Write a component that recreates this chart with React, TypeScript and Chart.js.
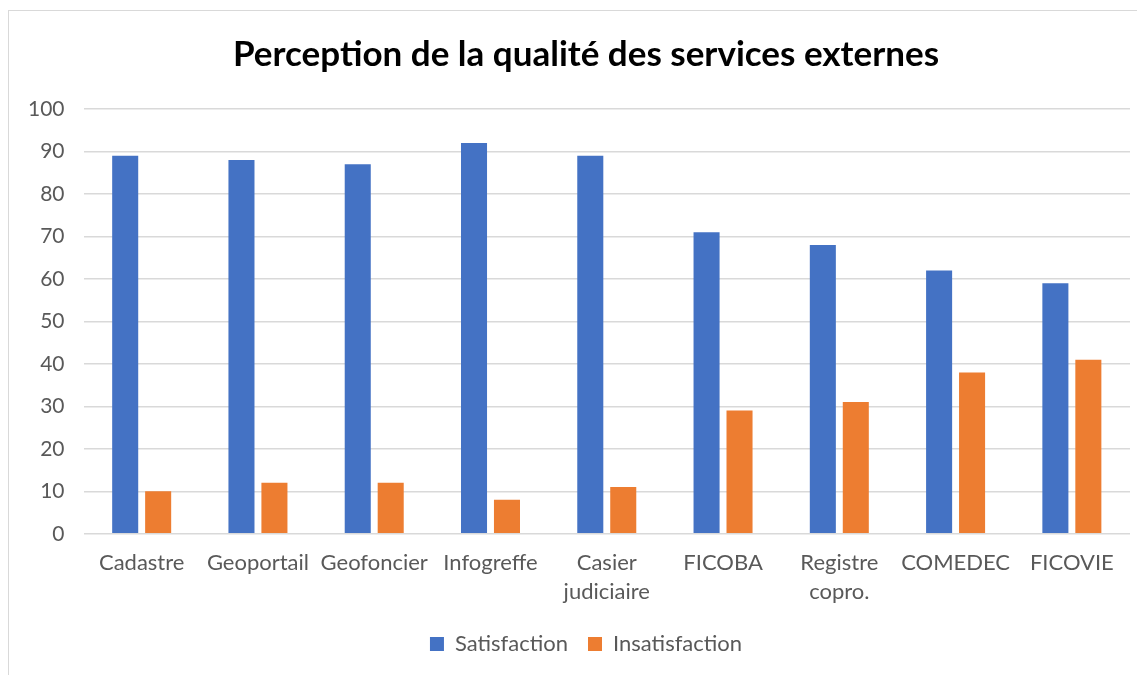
import React, { useEffect, useRef } from "react";
import { Chart, registerables } from "chart.js";

Chart.register(...registerables);

const categories: (string | string[])[] = [
  "Cadastre",
  "Geoportail",
  "Geofoncier",
  "Infogreffe",
  ["Casier", "judiciaire"],
  "FICOBA",
  ["Registre", "copro."],
  "COMEDEC",
  "FICOVIE",
];
const satisfaction = [89, 88, 87, 92, 89, 71, 68, 62, 59];
const insatisfaction = [10, 12, 12, 8, 11, 29, 31, 38, 41];
const yTicks = [0, 10, 20, 30, 40, 50, 60, 70, 80, 90, 100];

export default function App() {
  const ref = useRef<HTMLCanvasElement>(null);
  useEffect(() => {
    if (!ref.current) return;
    const font = "Lato, 'Open Sans', sans-serif";
    const chart = new Chart(ref.current, {
      type: "bar",
      data: {
        labels: categories,
        datasets: [
          {
            label: "Satisfaction",
            data: satisfaction,
            backgroundColor: "#4472C4",
            categoryPercentage: 0.567,
            barPercentage: 0.79,
          },
          {
            label: "Insatisfaction",
            data: insatisfaction,
            backgroundColor: "#ED7D31",
            categoryPercentage: 0.567,
            barPercentage: 0.79,
          },
        ],
      },
      options: {
        animation: false,
        responsive: false,
        maintainAspectRatio: false,
        layout: { padding: { left: 0, right: 0, top: 0, bottom: 10 } },
        plugins: {
          title: {
            display: true,
            text: "Perception de la qualité des services externes",
            color: "#000000",
            font: { family: font, size: 35, weight: "bold" },
            padding: { top: 23, bottom: 33 },
          },
          legend: {
            position: "bottom",
            labels: {
              color: "#595959",
              font: { family: font, size: 22 },
              boxWidth: 14,
              boxHeight: 14,
              padding: 20,
            },
          },
          tooltip: { enabled: false },
        },
        scales: {
          x: {
            grid: { display: false },
            border: { display: false },
            ticks: {
              color: "#595959",
              font: { family: font, size: 22, lineHeight: 1.3 },
              maxRotation: 0,
              autoSkip: false,
              padding: 7,
            },
          },
          y: {
            min: 0,
            max: 100,
            afterBuildTicks: (axis: any) => {
              axis.ticks = yTicks.map((v) => ({ value: v }));
            },
            grid: { color: "#d9d9d9", lineWidth: 1.5, drawTicks: false },
            border: { display: false },
            ticks: {
              color: "#595959",
              font: { family: font, size: 21 },
              padding: 19,
            },
          },
          yRight: {
            position: "right",
            display: true,
            min: 0,
            max: 100,
            grid: { display: false, drawTicks: false },
            border: { display: false },
            ticks: { display: false },
            afterFit: (scale: any) => {
              scale.width = 33;
            },
          },
        },
      },
    });
    return () => chart.destroy();
  }, []);
  return (
    <div
      style={{
        marginTop: 2,
        width: 1136,
        height: 664,
        overflow: "hidden",
        borderTop: "1px solid #d9d9d9",
        borderLeft: "1px solid #d9d9d9",
        background: "#fff",
      }}
    >
      <canvas ref={ref} width={1154} height={664} style={{ display: "block" }} />
    </div>
  );
}
